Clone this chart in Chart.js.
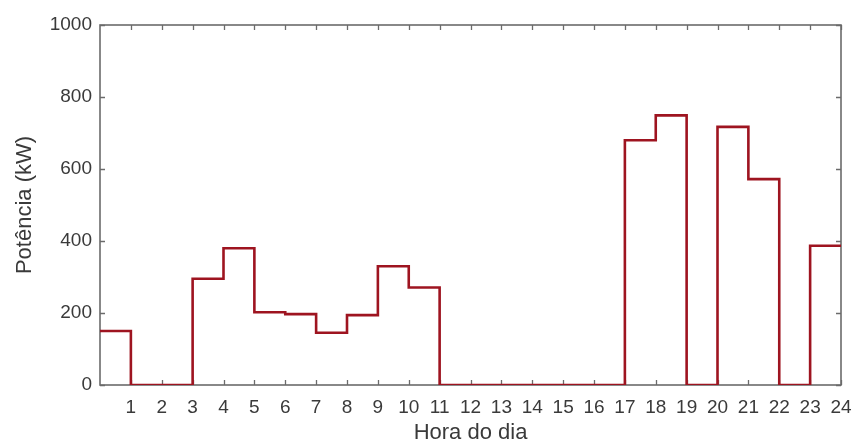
<!DOCTYPE html>
<html>
<head>
<meta charset="utf-8">
<script src="https://cdn.jsdelivr.net/npm/chart.js@4/dist/chart.umd.min.js"></script>
<style>
  html, body { margin: 0; padding: 0; background: #fff; }
  #wrap { width: 855px; height: 446px; }
</style>
</head>
<body>
<div id="wrap"><canvas id="c" width="855" height="446"></canvas></div>
<script>
// Hourly power demand (kW), one value per hour of the day
const hours = [0,1,2,3,4,5,6,7,8,9,10,11,12,13,14,15,16,17,18,19,20,21,22,23];
const powerKW = [150,0,0,295,380,202,197,145,194,330,271,0,0,0,0,0,0,680,749,0,717,572,0,387];
const xTickValues = [1,2,3,4,5,6,7,8,9,10,11,12,13,14,15,16,17,18,19,20,21,22,23,24];
const yTickValues = [0,200,400,600,800,1000];

// Each hour's value holds until the next hour; close the last step at 24
const stepPoints = hours.map((h, i) => ({ x: h, y: powerKW[i] }));
stepPoints.push({ x: 24, y: powerKW[powerKW.length - 1] });

const axisColor = '#6b6b6b';
const textColor = '#3a3a3a';
const family = '"Liberation Sans", Arial, sans-serif';

// Box around the plot with short inward ticks on all four sides
const boxTicks = {
  id: 'boxTicks',
  beforeDatasetsDraw(chart) {
    const { ctx, chartArea: a, scales: { x, y } } = chart;
    const len = 5;
    ctx.save();
    ctx.strokeStyle = axisColor;
    ctx.lineWidth = 1.3;
    ctx.beginPath();
    xTickValues.forEach(v => {
      const px = Math.round(x.getPixelForValue(v)) + 0.5;
      ctx.moveTo(px, a.bottom); ctx.lineTo(px, a.bottom - len);
      ctx.moveTo(px, a.top); ctx.lineTo(px, a.top + len);
    });
    yTickValues.forEach(v => {
      const py = Math.round(y.getPixelForValue(v)) + 0.5;
      ctx.moveTo(a.left, py); ctx.lineTo(a.left + len, py);
      ctx.moveTo(a.right, py); ctx.lineTo(a.right - len, py);
    });
    ctx.stroke();
    ctx.lineWidth = 1.6;
    ctx.strokeRect(a.left, a.top, a.right - a.left, a.bottom - a.top);
    ctx.restore();
  }
};

new Chart(document.getElementById('c'), {
  type: 'line',
  data: {
    datasets: [{
      data: stepPoints,
      stepped: 'before',
      borderColor: '#9e1420',
      borderWidth: 2.6,
      pointRadius: 0,
      fill: false
    }]
  },
  options: {
    responsive: false,
    animation: false,
    events: [],
    layout: { padding: { top: 25, right: 14, left: 0, bottom: 0 } },
    plugins: { legend: { display: false }, tooltip: { enabled: false } },
    scales: {
      x: {
        type: 'linear',
        min: 0, max: 24,
        afterFit(s) { s.height = 61; s.paddingLeft = 0; s.paddingRight = 0; },
        afterBuildTicks(s) { s.ticks = xTickValues.map(v => ({ value: v })); },
        grid: { display: false, drawTicks: false },
        border: { display: false },
        ticks: {
          autoSkip: false, maxRotation: 0,
          padding: 11,
          color: textColor,
          font: { family, size: 19 },
          callback: v => String(v)
        },
        title: {
          display: true, text: 'Hora do dia',
          color: textColor,
          font: { family, size: 22 },
          padding: { top: 0, bottom: 0 }
        }
      },
      y: {
        min: 0, max: 1000,
        afterFit(s) { s.width = 100; s.paddingTop = 0; s.paddingBottom = 0; },
        afterBuildTicks(s) { s.ticks = yTickValues.map(v => ({ value: v })); },
        grid: { display: false, drawTicks: false },
        border: { display: false },
        ticks: {
          padding: 8,
          color: textColor,
          font: { family, size: 19 },
          callback: v => String(v)
        },
        title: {
          display: true, text: 'Potência (kW)',
          color: textColor,
          font: { family, size: 22 },
          padding: { top: 12, bottom: 0 }
        }
      }
    }
  },
  plugins: [boxTicks]
});
</script>
</body>
</html>
